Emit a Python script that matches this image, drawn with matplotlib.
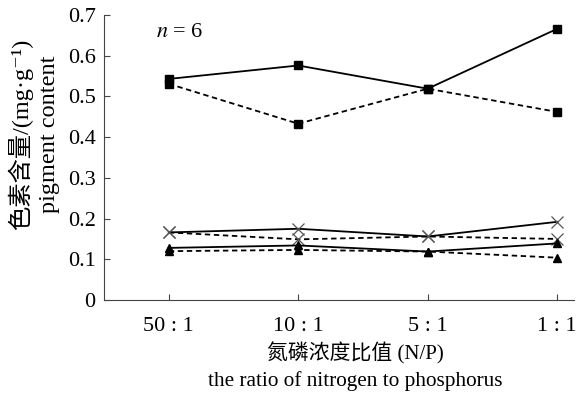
import matplotlib.pyplot as plt

ratios = ['50 : 1', '10 : 1', '5 : 1', '1 : 1']
sq_solid = [0.543, 0.576, 0.519, 0.666]
sq_dash = [0.531, 0.433, 0.519, 0.462]
x_solid = [0.166, 0.175, 0.156, 0.192]
x_dash = [0.166, 0.149, 0.156, 0.150]
tri_solid = [0.128, 0.134, 0.119, 0.139]
tri_dash = [0.120, 0.123, 0.119, 0.104]

fam = ['Liberation Serif', 'Noto Sans CJK SC', 'DejaVu Serif']
plt.rcParams['font.family'] = fam
plt.rcParams['mathtext.fontset'] = 'stix'

fig = plt.figure(figsize=(5.78, 3.96), dpi=100)
ax = fig.add_axes([0.18, 0.2424, 0.813, 0.7197])

pos = range(len(ratios))
ax.plot(pos, sq_solid, '-', color='black', lw=1.3, marker='s', ms=6)
ax.plot(pos, sq_dash, '--', color='black', lw=1.3, marker='s', ms=6, dashes=(3, 2))
ax.plot(pos, x_solid, '-', color='black', lw=1.3, marker='x', ms=9,
        mec='#555555', mew=0.9)
ax.plot(pos, x_dash, '--', color='black', lw=1.3, marker='x', ms=9,
        mec='#555555', mew=0.9, dashes=(3, 2))
ax.plot(pos, tri_solid, '-', color='black', lw=1.3, marker='^', ms=6)
ax.plot(pos, tri_dash, '--', color='black', lw=1.3, marker='^', ms=6, dashes=(3, 2))

ax.set_xlim(-0.5, 3.13)
ax.set_ylim(0, 0.7)
ax.set_xticks(list(pos))
ax.set_xticklabels(ratios)
ax.set_yticks([0, 0.1, 0.2, 0.3, 0.4, 0.5, 0.6, 0.7])
ax.set_yticklabels(['0', '0.1', '0.2', '0.3', '0.4', '0.5', '0.6', '0.7'])
ax.tick_params(direction='in', labelsize=16, length=4, color='#444444', pad=6)
ax.tick_params(axis='x', pad=12)
for s in ['top', 'right']:
    ax.spines[s].set_visible(False)
for s in ['left', 'bottom']:
    ax.spines[s].set_color('#444444')

ax.text(0.11, 0.94, '$n$ = 6', transform=ax.transAxes, fontsize=16,
        va='center', ha='left')

# axis titles, two lines each
fig.text(355 / 578, 1 - 353 / 396, '氮磷浓度比值 (N/P)', fontsize=15,
         ha='center', va='center')
fig.text(355 / 578, 1 - 381 / 396, 'the ratio of nitrogen to phosphorus',
         fontsize=15.3, ha='center', va='center')
fig.text(34 / 578, 1 - 134 / 396, '色素含量/(mg·g⁻¹)\npigment content',
         fontsize=17.5, rotation=90, ha='center', va='center',
         multialignment='center', linespacing=1.4)

fig.savefig('out.png', dpi=100)
